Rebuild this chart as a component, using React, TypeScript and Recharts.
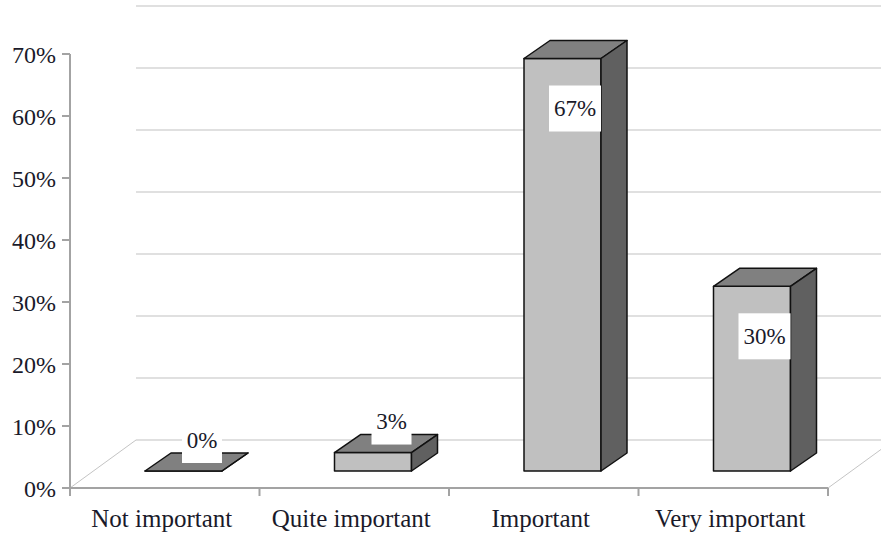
import React from 'react';
import { BarChart, Bar, XAxis, YAxis, CartesianGrid } from 'recharts';

const categories = ['Not important', 'Quite important', 'Important', 'Very important'];
const shares = [0, 3, 67, 30];
const yTicks = [0, 10, 20, 30, 40, 50, 60, 70];

const data = categories.map((name, i) => ({ name, value: shares[i] }));

const FONT = '"Liberation Serif", "Times New Roman", serif';
const AXIS_GRAY = '#a3a3a3';
const GRID_GRAY = '#d6d6d6';

// fake 3d: back wall offset, bar plane offset and bar depth
const WALL_DX = 66;
const WALL_DY = -48;
const BAR_DX = 19;
const BAR_DY = -17;
const DEPTH_X = 26;
const DEPTH_Y = -18;

function WallLine(props: any) {
  const { x1, x2, y1, y, height, index } = props;
  const isFloor = Math.abs(y1 - (y + height)) < 1;
  return (
    <g key={`wall-${index}`}>
      <line x1={x1 + WALL_DX} y1={y1 + WALL_DY} x2={x2 + WALL_DX} y2={y1 + WALL_DY} stroke={GRID_GRAY} strokeWidth={1.5} />
      {isFloor && (
        <>
          <line x1={x1} y1={y1} x2={x1 + WALL_DX} y2={y1 + WALL_DY} stroke="#c4c4c4" strokeWidth={1} />
          <line x1={x2} y1={y1} x2={x2 + WALL_DX} y2={y1 + WALL_DY} stroke="#c4c4c4" strokeWidth={1} />
        </>
      )}
    </g>
  );
}

function Bar3D(props: any) {
  const { x, y, width, height, value } = props;
  const h = height * 0.993;
  const left = x + BAR_DX;
  const right = left + width;
  const bottom = y + height + BAR_DY;
  const top = bottom - h;

  const front = `M${left},${bottom}L${left},${top}L${right},${top}L${right},${bottom}Z`;
  const topFace = `M${left},${top}L${left + DEPTH_X},${top + DEPTH_Y}L${right + DEPTH_X},${top + DEPTH_Y}L${right},${top}Z`;
  const side = `M${right},${top}L${right + DEPTH_X},${top + DEPTH_Y}L${right + DEPTH_X},${bottom + DEPTH_Y}L${right},${bottom}Z`;

  const text = `${value}%`;
  const boxW = text.length > 2 ? 52 : 40;
  const boxH = 46;
  const inside = h > 60;
  const boxTop = inside ? top + 27 : top - 54;
  const boxLeft = right - boxW;

  return (
    <g>
      <path d={front} fill="#c0c0c0" stroke="#111" strokeWidth={1.5} strokeLinejoin="round" />
      <path d={topFace} fill="#808080" stroke="#111" strokeWidth={1.5} strokeLinejoin="round" />
      <path d={side} fill="#606060" stroke="#111" strokeWidth={1.5} strokeLinejoin="round" />
      <rect x={boxLeft} y={boxTop} width={boxW} height={boxH} fill="#fff" />
      <text
        x={boxLeft + boxW / 2}
        y={boxTop + boxH / 2}
        textAnchor="middle"
        dominantBaseline="central"
        fontFamily={FONT}
        fontSize={23}
        fill="#1a1a2a"
      >
        {text}
      </text>
    </g>
  );
}

function CategoryTick(props: any) {
  const { x, y, payload, index, visibleTicksCount } = props;
  const half = payload.offset || 94.75;
  return (
    <g>
      <line x1={x - half} y1={y} x2={x - half} y2={y + 8} stroke={AXIS_GRAY} strokeWidth={2} />
      {index === visibleTicksCount - 1 && (
        <line x1={x + half} y1={y} x2={x + half} y2={y + 8} stroke={AXIS_GRAY} strokeWidth={2} />
      )}
      <text x={x - 3} y={y + 30} textAnchor="middle" dominantBaseline="central" fontFamily={FONT} fontSize={25} fill="#1a1a2a">
        {payload.value}
      </text>
    </g>
  );
}

export default function App() {
  return (
    <div style={{ position: 'absolute', left: 0, top: 0, background: '#fff' }}>
      <BarChart width={881} height={533} data={data} margin={{ top: 54, right: 53, bottom: 15, left: 10 }}>
        <CartesianGrid vertical={false} horizontal={WallLine} />
        <XAxis
          dataKey="name"
          height={30}
          tickLine={false}
          tickSize={0}
          tickMargin={0}
          interval={0}
          axisLine={{ stroke: AXIS_GRAY, strokeWidth: 2 }}
          tick={CategoryTick}
        />
        <YAxis
          width={60}
          domain={[0, 70]}
          ticks={yTicks}
          interval={0}
          tickFormatter={(v: number) => `${v}%`}
          tickSize={8}
          tickMargin={6}
          axisLine={{ stroke: AXIS_GRAY, strokeWidth: 2 }}
          tickLine={{ stroke: AXIS_GRAY, strokeWidth: 2 }}
          tick={{ fill: '#1a1a2a', fontSize: 24, fontFamily: FONT }}
        />
        <Bar dataKey="value" barSize={77} shape={Bar3D} isAnimationActive={false} />
      </BarChart>
    </div>
  );
}
